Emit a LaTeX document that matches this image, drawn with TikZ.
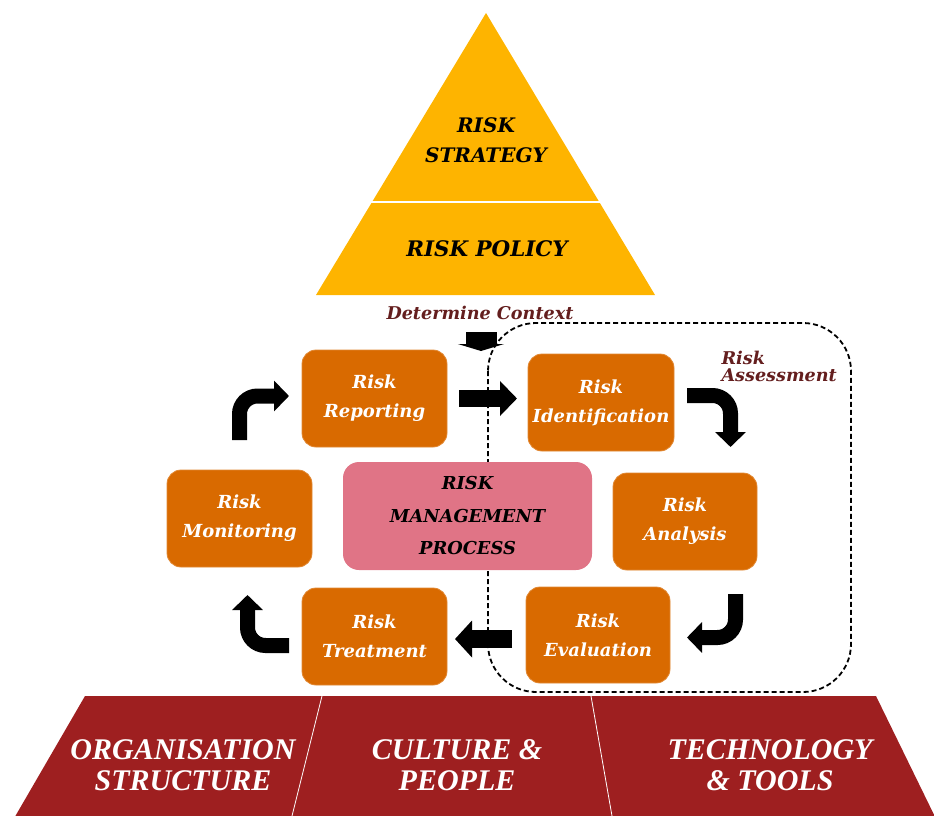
\documentclass[tikz,border=0pt]{standalone}
\usepackage{fontspec}
\setmainfont{DejaVu Serif}
\newfontfamily\timesf{Liberation Serif}
\usetikzlibrary{arrows.meta}
\definecolor{boxor}{RGB}{217,106,0}
\definecolor{boxpink}{RGB}{224,116,134}
\definecolor{gold}{RGB}{254,180,0}
\definecolor{barred}{RGB}{158,31,32}
\definecolor{darkred}{RGB}{100,30,30}
\begin{document}
\begin{tikzpicture}[x=1pt,y=-1pt,
  stepbox/.style={draw=boxor!80!white, line width=0.8pt, fill=boxor, rounded corners=14pt,
    minimum width=145pt, minimum height=97pt, text=white, inner sep=0pt, align=center,
    font=\fontsize{18}{29}\selectfont\bfseries\itshape},
  centrebox/.style={fill=boxpink, rounded corners=16pt, minimum width=249pt, minimum height=108pt,
    inner sep=0pt, align=center, font=\fontsize{17.8}{32.5}\selectfont\bfseries\itshape},
  bentarrow/.style={line width=15pt, rounded corners=18pt, -{Triangle[length=15pt,width=30pt]}},
  straightarrow/.style={line width=17pt, -{Triangle[length=17pt,width=34pt]}},
  bartext/.style={text=white, align=center, font=\timesf\fontsize{30}{31}\selectfont\bfseries\itshape},
  redtext/.style={text=darkred, font=\fontsize{17.6}{17}\selectfont\bfseries\itshape}
]
\path[use as bounding box] (0,0) rectangle (934,816);

% pyramid
\fill[gold] (486,13) -- (655,295) -- (316,295) -- cycle;
\draw[white, line width=2pt] (371,202) -- (600,202);
\node[align=center, font=\fontsize{20}{30}\selectfont\bfseries\itshape] (strategy) at (486,140) {RISK\\STRATEGY};
\node[font=\fontsize{21.4}{24}\selectfont\bfseries\itshape] (policy) at (487,249) {RISK POLICY};

% base bar
\begin{scope}
\clip (0,0) rectangle (934,816);
\fill[barred] (85,696) -- (876,696) -- (940,827) -- (9,827) -- cycle;
\draw[white, line width=0.8pt] (322,696) -- (292,816);
\draw[white, line width=0.8pt] (591,696) -- (612,816);
\end{scope}
\node[bartext] (org) at (183,765) {ORGANISATION\\STRUCTURE};
\node[bartext] (cult) at (457,765) {CULTURE \&\\PEOPLE};
\node[bartext] (tech) at (770,765) {TECHNOLOGY\\\& TOOLS};

% risk assessment frame
\draw[dashed, dash pattern=on 5pt off 3pt, line width=1.8pt, rounded corners=48pt] (488,323) rectangle (851,692);
\node[redtext, anchor=west, align=left] (assess) at (718,366) {Risk\\Assessment};
\node[redtext] (context) at (480,313) {Determine Context};

% boxes
\node[stepbox] (report) at (374.5,398.5) {Risk\\Reporting};
\node[stepbox] (monitor) at (239.5,518.5) {Risk\\Monitoring};
\node[stepbox] (treat) at (374.5,636.5) {Risk\\Treatment};
\node[stepbox, minimum width=146pt] (ident) at (601,402.5) {Risk\\Identification};
\node[stepbox, minimum width=144pt] (analysis) at (685,521.5) {Risk\\Analysis};
\node[stepbox, minimum width=144pt, minimum height=96pt] (eval) at (598,635) {Risk\\Evaluation};
\node[centrebox] (rmp) at (467.5,516) {RISK\\MANAGEMENT\\PROCESS};

% arrows
\coordinate (ctxA) at (481,332);
\coordinate (ctxB) at (481,351);
\draw[line width=31pt, -{Triangle[length=7pt,width=46pt]}] (ctxA) -- (ctxB);

\draw[straightarrow] (report.east |- 0,398.5) ++(12,0) coordinate (rA) -- (517,398.5) coordinate (rB);
\draw[straightarrow, line width=18pt, -{Triangle[length=17pt,width=36pt]}] (512,639) coordinate (lA) -- (455,639) coordinate (lB);

\coordinate (m1) at (239.5,440);
\draw[bentarrow] (m1) -- (239.5,396) -- (289,396);
\coordinate (i1) at (687,395.5);
\draw[bentarrow] (i1) -- (730.5,395.5) -- (730.5,447);
\coordinate (a1) at (735.5,594);
\draw[bentarrow] (a1) -- (735.5,637.5) -- (687,637.5);
\coordinate (t1) at (289,645.5);
\draw[bentarrow] (t1) -- (247.5,645.5) -- (247.5,595);
\end{tikzpicture}
\end{document}
